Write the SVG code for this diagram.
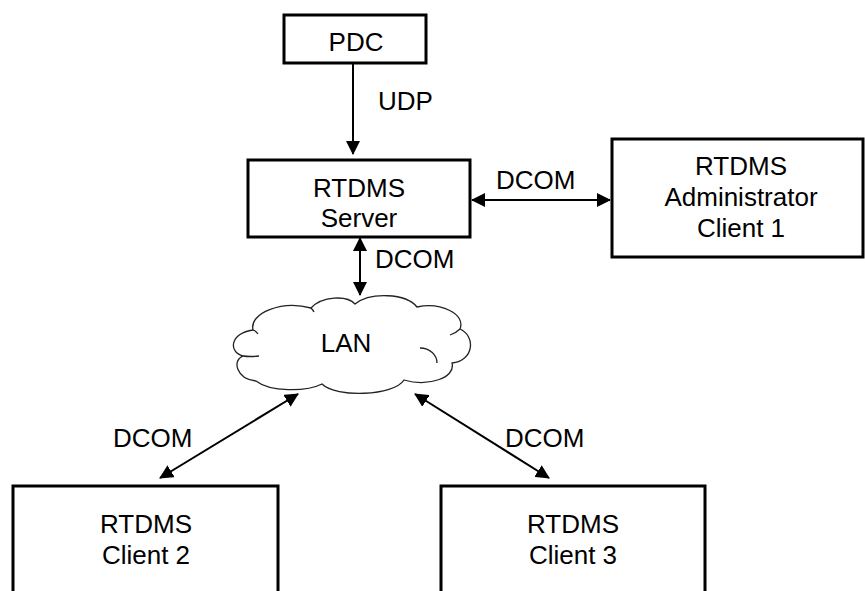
<svg xmlns="http://www.w3.org/2000/svg" width="865" height="591" viewBox="0 0 865 591">
<style>
.box{fill:#fff;stroke:#000;stroke-width:3}
.t{font-family:"Liberation Sans",Arial,sans-serif;font-size:26px;fill:#000}
.c{text-anchor:middle}
.ln{stroke:#000;stroke-width:2;fill:none}
.cloud{fill:#fff;stroke:#222;stroke-width:1.3;stroke-linejoin:round}
</style>
<defs>
<marker id="ah" viewBox="0 0 14 14" refX="13" refY="7" markerWidth="14" markerHeight="14" markerUnits="userSpaceOnUse" orient="auto-start-reverse">
<path d="M0,0 L14,7 L0,14 Z" fill="#000"/>
</marker>
</defs>
<rect width="865" height="591" fill="#fff"/>
<g id="connectors">
<path class="ln" d="M353,63 L353,154" marker-end="url(#ah)"/>
<path class="ln" d="M472,200 L610,200" marker-start="url(#ah)" marker-end="url(#ah)"/>
<path class="ln" d="M360,238 L360,295" marker-start="url(#ah)" marker-end="url(#ah)"/>
<path class="ln" d="M298,394 L160,478" marker-start="url(#ah)" marker-end="url(#ah)"/>
<path class="ln" d="M415,394 L549,478" marker-start="url(#ah)" marker-end="url(#ah)"/>
<text class="t" x="378" y="110">UDP</text>
<text class="t" x="496" y="189">DCOM</text>
<text class="t" x="375" y="268">DCOM</text>
<text class="t" x="113" y="447">DCOM</text>
<text class="t" x="505" y="447">DCOM</text>
</g>
<g id="pdc">
<rect class="box" x="284" y="15" width="142" height="48"/>
<text class="t c" x="356" y="51">PDC</text>
</g>
<g id="server">
<rect class="box" x="248" y="160" width="222" height="77"/>
<text class="t c" x="359" y="197">RTDMS</text>
<text class="t c" x="359" y="227">Server</text>
</g>
<g id="admin">
<rect class="box" x="612" y="139" width="251" height="118"/>
<text class="t c" x="741" y="175">RTDMS</text>
<text class="t c" x="741" y="206">Administrator</text>
<text class="t c" x="741" y="237">Client 1</text>
</g>
<g id="lan">
<path class="cloud" d="M253,330 C249,313 282,300 311,308 C322,296 347,295 355,304 C370,292 406,293 417,307 C441,302 466,314 460,329 C476,336 474,361 452,363 C456,378 428,387 404,380 C394,396 336,398 322,384 C306,392 270,392 256,381 C236,379 232,360 243,356 C228,352 230,333 253,330 Z"/>
<path class="cloud" fill="none" d="M243,356 Q250,357 259,356 M420,348 C430,348 437,355 437,363 M460,329 Q456,333 450,335 M253,330 Q256,331 258,334 M311,308 Q313,310 314,312"/>
<text class="t c" x="346" y="352">LAN</text>
</g>
<g id="client2">
<rect class="box" x="13" y="486" width="265" height="130"/>
<text class="t c" x="146" y="533">RTDMS</text>
<text class="t c" x="146" y="564">Client 2</text>
</g>
<g id="client3">
<rect class="box" x="441" y="486" width="264" height="130"/>
<text class="t c" x="573" y="533">RTDMS</text>
<text class="t c" x="573" y="564">Client 3</text>
</g>
</svg>
